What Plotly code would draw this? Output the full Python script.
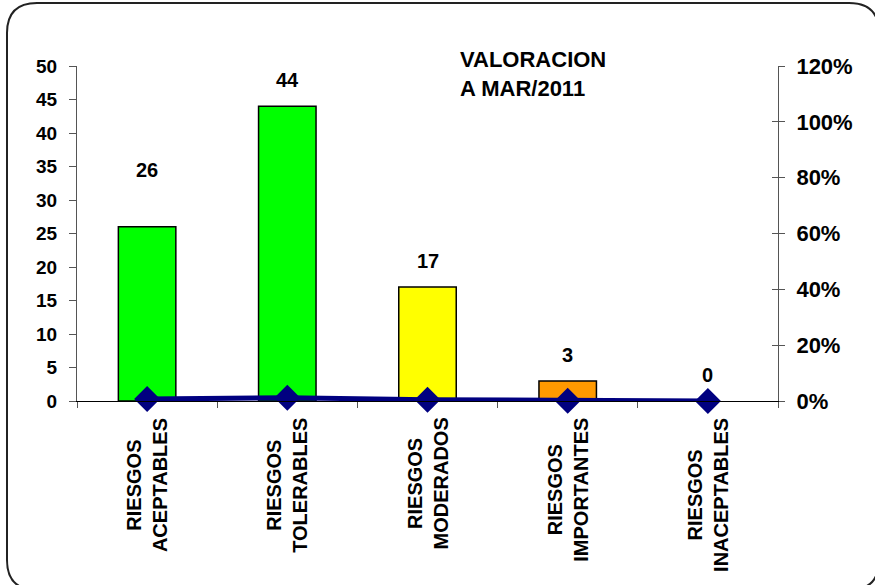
import plotly.graph_objects as go

categories = ["RIESGOS<br>ACEPTABLES", "RIESGOS<br>TOLERABLES", "RIESGOS<br>MODERADOS",
              "RIESGOS<br>IMPORTANTES", "RIESGOS<br>INACEPTABLES"]
counts = [26, 44, 17, 3, 0]
pct_line = [0.29, 0.49, 0.19, 0.03, 0.0]
bar_colors = ["#00FF00", "#00FF00", "#FFFF00", "#FF9900", "#FF0000"]
left_ticks = [0, 5, 10, 15, 20, 25, 30, 35, 40, 45, 50]
right_ticks = [0, 0.2, 0.4, 0.6, 0.8, 1.0, 1.2]
title_text = "VALORACION<br>A MAR/2011"

W, H = 875, 585
L, R, T, B = 77, 778, 66, 401
FONT = "Liberation Sans, Arial, sans-serif"


def px(x):
    return (x - L) / (R - L)


def py(y):
    return (B - y) / (B - T)


def bold(size):
    return dict(family=FONT, size=size, color="black", weight="bold")


fig = go.Figure()
fig.add_trace(go.Bar(
    x=categories, y=counts, width=0.41,
    marker=dict(color=bar_colors,
                line=dict(color="black", width=[1.5 if v > 0 else 0 for v in counts])),
    showlegend=False, hoverinfo="skip",
))
fig.add_trace(go.Scatter(
    x=categories, y=pct_line, mode="lines+markers",
    line=dict(color="#000080", width=5),
    marker=dict(symbol="diamond", size=20, color="#000080"),
    showlegend=False, hoverinfo="skip", cliponaxis=False,
))
# invisible traces to hold right axes
fig.add_trace(go.Scatter(x=categories, y=pct_line, yaxis="y2", mode="markers",
                         marker=dict(opacity=0), showlegend=False, hoverinfo="skip"))
fig.add_trace(go.Scatter(x=categories, y=pct_line, yaxis="y3", mode="markers",
                         marker=dict(opacity=0), showlegend=False, hoverinfo="skip"))

# data labels
shifts = [44, 13, 13, 13, 13]
for c, v, s in zip(categories, counts, shifts):
    fig.add_annotation(x=c, y=v, text=str(v), showarrow=False, yanchor="bottom",
                       yshift=s, font=bold(20))

# category labels (rotated, centered lines)
for c in categories:
    fig.add_annotation(x=c, xref="x", y=py(416), yref="paper", text=c, textangle=-90,
                       showarrow=False, xanchor="center", yanchor="top",
                       font=bold(20))

fig.add_annotation(x=px(458), y=py(45), xref="paper", yref="paper", text=title_text,
                   showarrow=False, xanchor="left", yanchor="top", align="left",
                   font=bold(22))

# rounded frame
x0, y0, x1, y1, r = 7, 3, 879, 590, 30
pts = [
    ("M", [(x0 + r, y0)]), ("L", [(x1 - r, y0)]), ("Q", [(x1, y0), (x1, y0 + r)]),
    ("L", [(x1, y1 - r)]), ("Q", [(x1, y1), (x1 - r, y1)]),
    ("L", [(x0 + r, y1)]), ("Q", [(x0, y1), (x0, y1 - r)]),
    ("L", [(x0, y0 + r)]), ("Q", [(x0, y0), (x0 + r, y0)]),
]
path = " ".join(cmd + " " + " ".join(f"{px(a):.5f},{py(b):.5f}" for a, b in p) for cmd, p in pts) + " Z"
fig.add_shape(type="path", path=path, xref="paper", yref="paper",
              line=dict(color="#222222", width=2), layer="below")

fig.update_layout(
    width=W, height=H,
    margin=dict(l=L, r=W - R, t=T, b=H - B),
    paper_bgcolor="white", plot_bgcolor="white",
    font=bold(19),
    bargap=0.6,
    xaxis=dict(
        type="category", range=[-0.5, 4.5], showticklabels=False,
        showline=True, linecolor="black", linewidth=1,
        ticks="outside", tickson="boundaries", ticklen=6, tickcolor="#555555",
        showgrid=False, zeroline=False,
    ),
    yaxis=dict(
        range=[0, 50], tickvals=left_ticks, showline=True, linecolor="#555555", linewidth=1,
        ticks="outside", ticklen=7, tickcolor="#555555", showgrid=False, zeroline=False,
        tickfont=bold(19), ticklabelstandoff=8,
    ),
    yaxis2=dict(
        range=[0, 1.2], tickvals=right_ticks, tickformat=".0%", overlaying="y", side="right",
        anchor="x", showline=True, linecolor="#555555", linewidth=1,
        ticks="outside", ticklen=6, tickcolor="#555555", showgrid=False, zeroline=False,
        tickfont=bold(22), ticklabelstandoff=7,
    ),
    yaxis3=dict(
        range=[0, 1.2], tickvals=right_ticks, overlaying="y", side="right", anchor="x",
        showline=False, ticks="inside", ticklen=6, tickcolor="#555555",
        showticklabels=False, showgrid=False, zeroline=False,
    ),
)

fig.write_html("out.html", config={"displayModeBar": False},
               post_script="document.body.style.margin='0';")
